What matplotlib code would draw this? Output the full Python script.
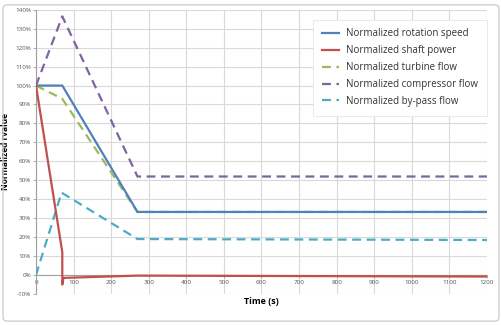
import matplotlib
matplotlib.use("Agg")
import matplotlib.pyplot as plt
from matplotlib.patches import FancyBboxPatch
from matplotlib.ticker import FuncFormatter

t_speed = [0, 70, 270, 1200]
v_speed = [100, 100, 33.3, 33.3]
t_power = [0, 70, 70, 73, 270, 1200]
v_power = [100, 12, -5, -1.5, -0.3, -0.8]
t_turb = [0, 70, 270, 1200]
v_turb = [100, 93, 33.3, 33.3]
t_comp = [0, 70, 270, 1200]
v_comp = [100, 136.5, 52, 52]
t_byp = [0, 68, 270, 1200]
v_byp = [0, 43.5, 19, 18.5]

labels = ["Normalized rotation speed", "Normalized shaft power", "Normalized turbine flow",
          "Normalized compressor flow", "Normalized by-pass flow"]
colors = ["#4F81BD", "#C0504D", "#9BBB59", "#8064A2", "#4BACC6"]

plt.rcParams['font.family'] = ['Open Sans', 'DejaVu Sans']
fig = plt.figure(figsize=(5.02, 3.25), dpi=100)
fig.patches.append(FancyBboxPatch((0.006, 0.012), 0.988, 0.973, boxstyle="round,pad=0,rounding_size=0.01",
                                  transform=fig.transFigure, fill=False, edgecolor="#d0d0d0", linewidth=1.0))
ax = fig.add_axes([0.0717, 0.0954, 0.8983, 0.8746])

lw = 1.6
ax.plot(t_speed, v_speed, color=colors[0], lw=lw, label=labels[0], zorder=5)
ax.plot(t_power, v_power, color=colors[1], lw=lw, label=labels[1], zorder=5)
ax.plot(t_turb, v_turb, color=colors[2], lw=lw, dashes=(4, 2.5), label=labels[2], zorder=4)
ax.plot(t_comp, v_comp, color=colors[3], lw=lw, dashes=(4, 2.5), label=labels[3], zorder=4)
ax.plot(t_byp, v_byp, color=colors[4], lw=lw, dashes=(4, 2.5), label=labels[4], zorder=4)

ax.set_xlim(0, 1200)
ax.set_ylim(-10, 140)
ax.set_xticks(range(0, 1201, 100))
ax.set_yticks(range(-10, 141, 10))
ax.yaxis.set_major_formatter(FuncFormatter(lambda v, p: f"{int(round(v))}%"))
ax.grid(True, color="#d9d9d9", linewidth=0.8)
ax.set_axisbelow(True)
for s in ["top", "right"]:
    ax.spines[s].set_visible(False)
ax.spines["bottom"].set_position(("data", 0))
ax.spines["bottom"].set_color("#a0a0a0")
ax.spines["left"].set_color("#a0a0a0")
ax.spines["bottom"].set_linewidth(0.8)
ax.spines["left"].set_linewidth(0.8)
ax.tick_params(axis="both", labelsize=4.5, colors="#a0a0a0", labelcolor="#555555", length=2, width=0.6, pad=1.5)

ax.set_xlabel("Time (s)", fontsize=6.5, fontweight="bold")
ax.xaxis.set_label_coords(0.5, -0.012)
ax.set_ylabel("Normalized rvalue", fontsize=6, fontweight="bold", labelpad=4)

leg = ax.legend(loc="upper right", bbox_to_anchor=(1.0, 0.965), borderaxespad=0, fontsize=7, frameon=True,
                fancybox=False, edgecolor="#e6e6e6", framealpha=1, handlelength=1.7, handletextpad=0.8,
                labelspacing=0.6, borderpad=0.9)
leg.get_frame().set_linewidth(0.6)
for txt in leg.get_texts():
    txt.set_color("#333333")

fig.savefig("out.png", dpi=100)
